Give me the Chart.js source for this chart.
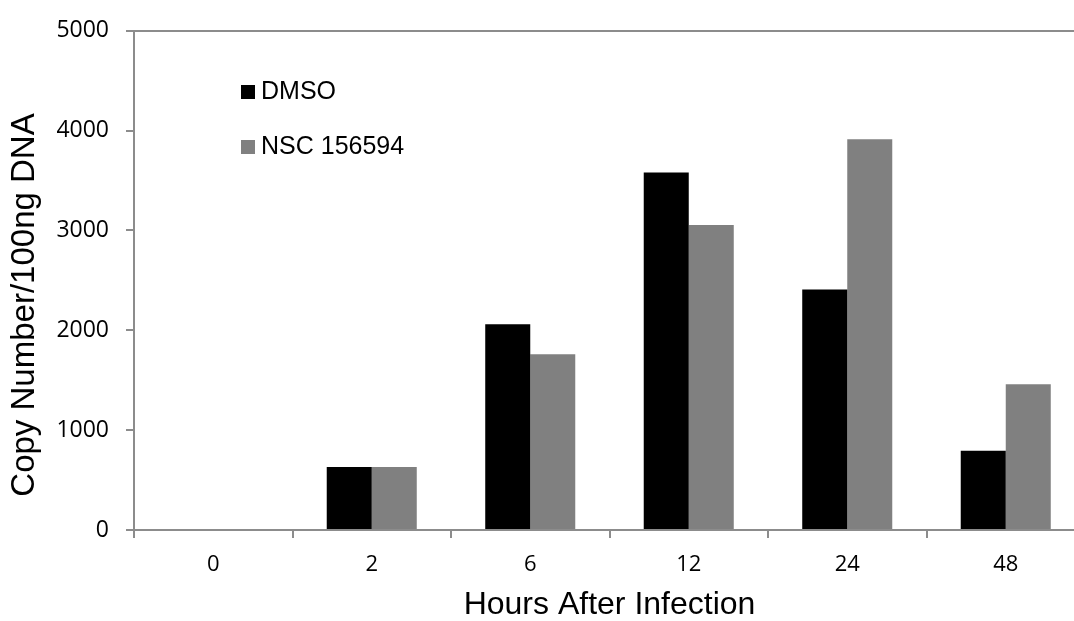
<!DOCTYPE html>
<html>
<head>
<meta charset="utf-8">
<script src="https://cdn.jsdelivr.net/npm/chart.js@4.4.1/dist/chart.umd.min.js"></script>
<style>
  html, body { margin: 0; padding: 0; background: #fff; overflow: hidden; }
  #wrap { width: 1074px; height: 621px; overflow: hidden; }
</style>
</head>
<body>
<div id="wrap"><canvas id="copyChart" width="1100" height="621"></canvas></div>
<script>
const hours = ['0', '2', '6', '12', '24', '48']
const dmso = [0, 630, 2060, 3580, 2410, 795]
const nsc = [0, 630, 1760, 3055, 3915, 1460]
const yTicks = [0, 1000, 2000, 3000, 4000, 5000]
const seriesNames = ['DMSO', 'NSC 156594']

const axisGray = '#8c8c8c'
const arial = '"Liberation Sans", Arial, sans-serif'

//legend sits inside the plot, top left
const insideLegend = {
    id: 'insideLegend',
    afterDraw(chart) {
        const ctx = chart.ctx
        ctx.save()
        ctx.font = '25px ' + arial
        ctx.textBaseline = 'middle'
        chart.data.datasets.forEach((ds, i) => {
            const y = 92 + i * 55
            ctx.fillStyle = ds.backgroundColor
            ctx.fillRect(241, y - 7, 14, 14)
            ctx.fillStyle = '#000'
            ctx.fillText(ds.label, 261, y)
        })
        ctx.restore()
    }
}

//y title is drawn by hand so it can sit a bit lower than the axis middle
const yTitle = {
    id: 'yTitle',
    afterDraw(chart) {
        const ctx = chart.ctx
        ctx.save()
        ctx.translate(25, 305)
        ctx.rotate(-Math.PI / 2)
        ctx.font = '33px ' + arial
        ctx.textAlign = 'center'
        ctx.textBaseline = 'middle'
        ctx.fillStyle = '#000'
        ctx.fillText('Copy Number/100ng DNA', 0, 0)
        ctx.restore()
    }
}

const ctx = document.getElementById('copyChart').getContext('2d')
const myChart = new Chart(ctx, {
    type: 'bar',
    data: {
        labels: hours,
        datasets: [{
            label: seriesNames[0],
            data: dmso,
            backgroundColor: '#000000'
        }, {
            label: seriesNames[1],
            data: nsc,
            backgroundColor: '#808080'
        }]
    },
    options: {
        responsive: false,
        animation: false,
        devicePixelRatio: 1,
        layout: {
            // canvas is wider than the page, the plot runs past the right edge
            padding: { top: 25, right: 15, left: 0, bottom: 0 }
        },
        datasets: {
            bar: {
                barPercentage: 1,
                categoryPercentage: 0.568,
                borderWidth: 0
            }
        },
        plugins: {
            legend: { display: false },
            tooltip: { enabled: false }
        },
        scales: {
            x: {
                afterFit: (scale) => { scale.height = 91 },
                grid: {
                    offset: true,
                    drawOnChartArea: false,
                    tickLength: 8,
                    color: axisGray,
                    lineWidth: 2
                },
                border: { display: true, color: axisGray, width: 2 },
                ticks: {
                    color: '#000',
                    padding: 14,
                    maxRotation: 0,
                    font: { family: '"Open Sans"', size: 22 }
                },
                title: {
                    display: true,
                    text: 'Hours After Infection',
                    color: '#000',
                    padding: 0,
                    font: { family: arial, size: 32, lineHeight: 1 }
                }
            },
            y: {
                min: 0,
                max: 5000,
                afterFit: (scale) => { scale.width = 134 },
                afterBuildTicks: (scale) => {
                    scale.ticks = yTicks.map(v => ({ value: v }))
                },
                grid: {
                    tickLength: 8,
                    lineWidth: 2,
                    tickColor: axisGray,
                    color: (c) => (c.tick && c.tick.value === 5000) ? axisGray : 'rgba(0,0,0,0)'
                },
                border: { display: true, color: axisGray, width: 2 },
                ticks: {
                    color: '#000',
                    padding: 17,
                    font: { family: '"Open Sans"', size: 23 },
                    callback: (v) => String(v)
                },
                title: { display: false }
            }
        }
    },
    plugins: [insideLegend, yTitle]
})
</script>
</body>
</html>
